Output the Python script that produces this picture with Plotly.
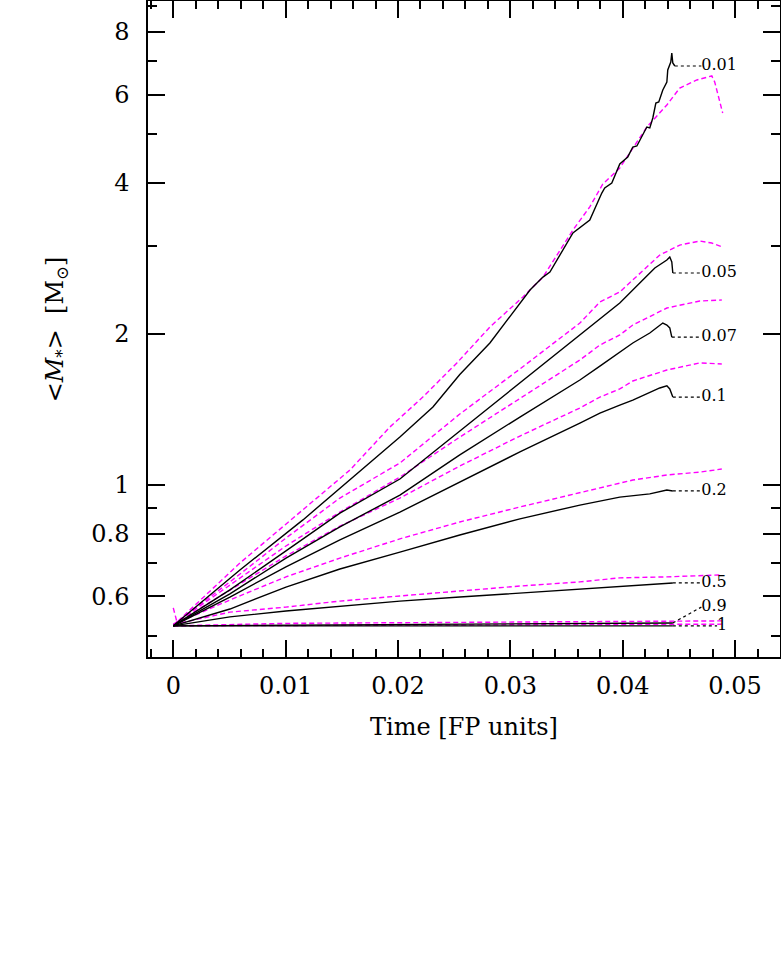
import plotly.graph_objects as go

# mass fraction labels
fractions = ["0.01", "0.05", "0.07", "0.1", "0.2", "0.5", "0.9", "1"]

# simulation curves (black, solid)
sim_t_001 = [0, 0.00593, 0.01154, 0.01572, 0.02017, 0.02311, 0.0255, 0.02818, 0.03175, 0.0329, 0.03352, 0.03557,
             0.03707, 0.03814, 0.0384, 0.03903, 0.03947, 0.03974, 0.04045, 0.0409, 0.04126, 0.04179, 0.04215,
             0.04241, 0.04268, 0.04295, 0.04321, 0.04357, 0.04393, 0.04401, 0.04428, 0.04437, 0.04446, 0.04464]
sim_m_001 = [0.524, 0.677, 0.852, 1.023, 1.246, 1.430, 1.66, 1.919, 2.447, 2.597, 2.658, 3.179,
             3.375, 3.819, 3.908, 3.999, 4.246, 4.364, 4.507, 4.717, 4.739, 4.985, 5.171,
             5.15, 5.389, 5.772, 5.799, 6.128, 6.358, 6.718, 6.968, 7.262, 6.936, 6.842]
sim_t_005 = [0, 0.00504, 0.01003, 0.01483, 0.02017, 0.0255, 0.03085, 0.03619, 0.03974, 0.04152, 0.04286,
             0.04393, 0.04419, 0.04437, 0.04446]
sim_m_005 = [0.524, 0.618, 0.739, 0.879, 1.028, 1.281, 1.597, 1.991, 2.306, 2.527, 2.707,
             2.809, 2.848, 2.783, 2.646]
sim_t_007 = [0, 0.00504, 0.01003, 0.01483, 0.02017, 0.0255, 0.03085, 0.03619, 0.03797, 0.03974, 0.0409,
             0.04241, 0.04357, 0.04393, 0.04419, 0.04437]
sim_m_007 = [0.524, 0.607, 0.715, 0.825, 0.955, 1.148, 1.366, 1.619, 1.726, 1.841, 1.919,
             2.009, 2.103, 2.084, 2.056, 1.972]
sim_t_01 = [0, 0.00504, 0.01003, 0.01483, 0.02017, 0.0255, 0.03085, 0.03619, 0.03797, 0.03974, 0.0409,
            0.0433, 0.04393, 0.04419, 0.04446]
sim_m_01 = [0.524, 0.598, 0.687, 0.777, 0.883, 1.014, 1.164, 1.329, 1.391, 1.443, 1.477,
            1.561, 1.576, 1.554, 1.497]
sim_t_02 = [0, 0.00504, 0.01003, 0.01483, 0.02017, 0.0255, 0.03085, 0.03619, 0.03974, 0.04241, 0.04393, 0.04446]
sim_m_02 = [0.524, 0.566, 0.626, 0.680, 0.735, 0.795, 0.856, 0.912, 0.946, 0.960, 0.977, 0.973]
sim_t_05 = [0, 0.00504, 0.01003, 0.01483, 0.02017, 0.0255, 0.03085, 0.03619, 0.03974, 0.04446]
sim_m_05 = [0.524, 0.546, 0.561, 0.574, 0.587, 0.598, 0.609, 0.621, 0.629, 0.638]
sim_t_09 = [0, 0.02017, 0.04446]
sim_m_09 = [0.524, 0.527, 0.531]
sim_t_1 = [0, 0.04446]
sim_m_1 = [0.524, 0.524]

# model curves (magenta, dashed)
mod_t_001 = [0, 0.00033, 0.00593, 0.01154, 0.01572, 0.01928, 0.02221, 0.02524, 0.02818, 0.03112, 0.0329,
             0.03557, 0.03707, 0.03823, 0.03974, 0.04215, 0.04393, 0.04508, 0.0466, 0.04793, 0.04819, 0.0489]
mod_m_001 = [0.569, 0.533, 0.699, 0.892, 1.071, 1.305, 1.497, 1.751, 2.065, 2.370, 2.597,
             3.223, 3.583, 3.981, 4.284, 5.171, 5.720, 6.184, 6.417, 6.536, 6.358, 5.513]
mod_t_005 = [0, 0.00504, 0.01003, 0.01483, 0.02017, 0.0255, 0.03085, 0.03619, 0.03797, 0.03974, 0.0409,
             0.0433, 0.04508, 0.04686, 0.04793, 0.0489]
mod_m_005 = [0.527, 0.641, 0.784, 0.942, 1.106, 1.385, 1.703, 2.103, 2.316, 2.425, 2.563,
             2.873, 3.008, 3.064, 3.036, 2.981]
mod_t_007 = [0, 0.00504, 0.01003, 0.01483, 0.02017, 0.0255, 0.03085, 0.03619, 0.03797, 0.03974, 0.0409,
             0.04393, 0.04686, 0.04882]
mod_m_007 = [0.527, 0.632, 0.756, 0.883, 1.037, 1.246, 1.490, 1.775, 1.901, 1.991, 2.084,
             2.253, 2.327, 2.337]
mod_t_01 = [0, 0.00504, 0.01003, 0.01483, 0.02017, 0.0255, 0.03085, 0.03619, 0.03797, 0.03974, 0.0409,
            0.04393, 0.04686, 0.04882]
mod_m_01 = [0.527, 0.618, 0.722, 0.828, 0.942, 1.091, 1.252, 1.424, 1.497, 1.554, 1.612,
            1.695, 1.751, 1.743]
mod_t_02 = [0, 0.00504, 0.01003, 0.01483, 0.02017, 0.0255, 0.03085, 0.03619, 0.03797, 0.0409, 0.04393,
            0.04686, 0.04882]
mod_m_02 = [0.527, 0.590, 0.656, 0.715, 0.781, 0.844, 0.904, 0.964, 0.986, 1.023, 1.047,
            1.061, 1.076]
mod_t_05 = [0, 0.00504, 0.01003, 0.01483, 0.02017, 0.0255, 0.03085, 0.03619, 0.03974, 0.04393, 0.04882]
mod_m_05 = [0.527, 0.558, 0.571, 0.587, 0.601, 0.615, 0.629, 0.641, 0.653, 0.656, 0.662]
mod_t_09 = [0, 0.01003, 0.04882]
mod_m_09 = [0.524, 0.530, 0.536]
mod_t_1 = [0, 0.04882]
mod_m_1 = [0.524, 0.528]

# curve labels
label_t = [0.0470, 0.0470, 0.0470, 0.0470, 0.0470, 0.0470, 0.0470, 0.0484]
label_m = [6.842, 2.646, 1.972, 1.497, 0.973, 0.638, 0.571, 0.524]

x_major = [0, 0.01, 0.02, 0.03, 0.04, 0.05]
y_major = [0.6, 0.8, 1, 2, 4, 6, 8]
y_major_text = ["0.6", "0.8", "1", "2", "4", "6", "8"]
y_minor = [0.5, 0.7, 0.9, 3, 5, 7, 9]

sims = [(sim_t_001, sim_m_001), (sim_t_005, sim_m_005), (sim_t_007, sim_m_007), (sim_t_01, sim_m_01),
        (sim_t_02, sim_m_02), (sim_t_05, sim_m_05), (sim_t_09, sim_m_09), (sim_t_1, sim_m_1)]
mods = [(mod_t_001, mod_m_001), (mod_t_005, mod_m_005), (mod_t_007, mod_m_007), (mod_t_01, mod_m_01),
        (mod_t_02, mod_m_02), (mod_t_05, mod_m_05), (mod_t_09, mod_m_09), (mod_t_1, mod_m_1)]

FONT = "DejaVu Serif"

fig = go.Figure()
for t, m in mods:
    fig.add_trace(go.Scatter(x=t, y=m, mode="lines", cliponaxis=False,
                             line=dict(color="#ff00ff", width=1.4, dash="5px,3px")))
for t, m in sims:
    fig.add_trace(go.Scatter(x=t, y=m, mode="lines", line=dict(color="black", width=1.4)))

# dotted leaders from each simulation end to its label
for (t, m), lt, lm in zip(sims, label_t, label_m):
    fig.add_trace(go.Scatter(x=[t[-1], lt], y=[m[-1], lm], mode="lines",
                             line=dict(color="black", width=1.2, dash="dot")))

fig.add_trace(go.Scatter(x=label_t, y=label_m, mode="text", text=fractions,
                         textposition="middle right",
                         textfont=dict(family=FONT, size=16, color="black")))

axis_common = dict(showline=True, linecolor="black", linewidth=1.5, mirror="allticks",
                   ticks="inside", tickcolor="black", tickwidth=1.5, ticklen=17,
                   showgrid=False, zeroline=False, automargin=False,
                   tickfont=dict(family=FONT, size=24, color="black"))

fig.update_xaxes(range=[-0.00225, 0.054], tickmode="array", tickvals=x_major,
                 ticktext=["0", "0.01", "0.02", "0.03", "0.04", "0.05"],
                 ticklabelstandoff=6,
                 minor=dict(tickmode="linear", tick0=0, dtick=0.002, ticks="inside",
                            ticklen=8, tickcolor="black", tickwidth=1.5),
                 **axis_common)
fig.update_yaxes(type="log", range=[-0.3428, 0.9647], tickmode="array", tickvals=y_major,
                 ticktext=y_major_text, ticklabelstandoff=12,
                 minor=dict(tickmode="array", tickvals=y_minor, ticks="inside",
                            ticklen=9, tickcolor="black", tickwidth=1.5),
                 **axis_common)

fig.add_annotation(text="Time [FP units]", xref="paper", yref="paper", x=0.5, y=-0.1067,
                   xanchor="center", yanchor="middle", showarrow=False,
                   font=dict(family=FONT, size=24, color="black"))
fig.add_annotation(text="&lt;<i>M</i><sub>*</sub>&gt;  [M<sub>⊙</sub>]", xref="paper", yref="paper",
                   x=-0.145, y=0.5, xanchor="center", yanchor="middle", textangle=-90,
                   showarrow=False, font=dict(family=FONT, size=24, color="black"))

fig.update_layout(width=781, height=955, showlegend=False, hovermode=False,
                  margin=dict(l=148, r=1, t=1, b=298),
                  plot_bgcolor="white", paper_bgcolor="white")

# page body has a default margin; drop it so the figure sits at the window corner
fig.write_html("out.html", config={"displayModeBar": False},
               post_script="document.body.style.margin = '0';")
